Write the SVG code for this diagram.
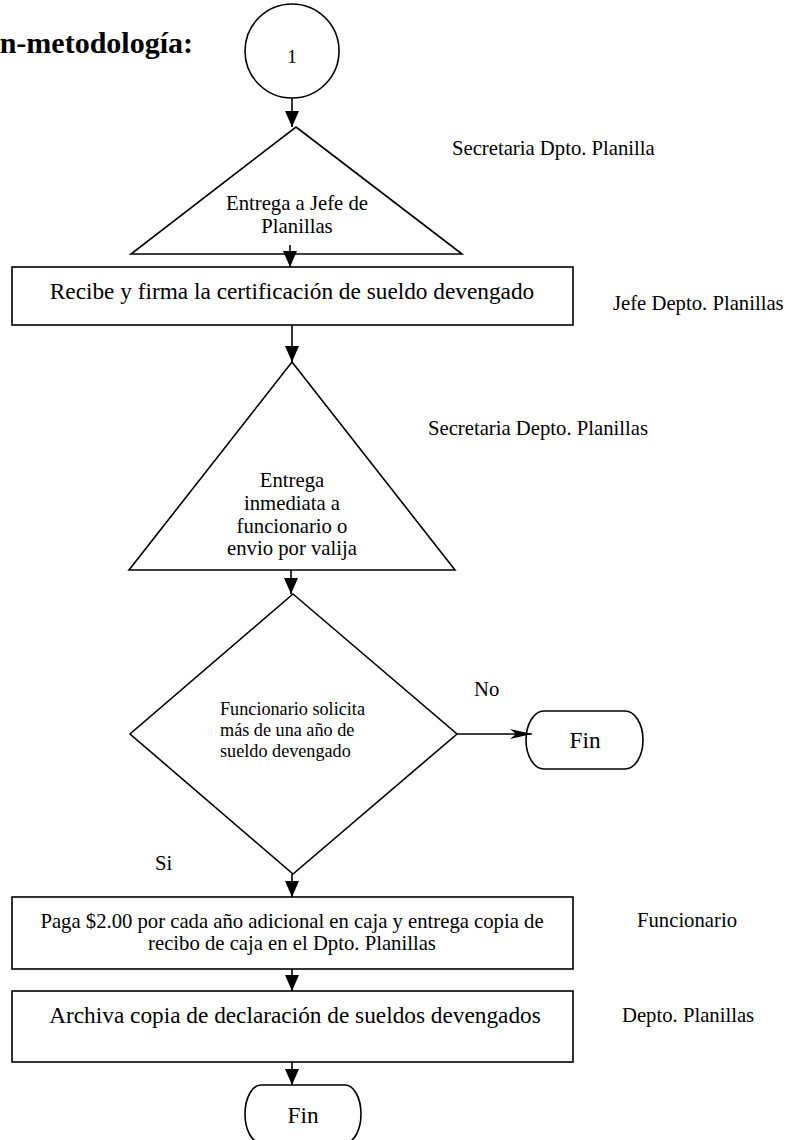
<svg xmlns="http://www.w3.org/2000/svg" width="787" height="1140" viewBox="0 0 787 1140">
<defs>
<style>
.s{fill:#fff;stroke:#000;stroke-width:1.6}
.c{fill:none;stroke:#000;stroke-width:1.6}
text{font-family:"Liberation Serif","Times New Roman",serif;fill:#000}
.m{font-size:23.3px;text-anchor:middle}
.l{font-size:20.7px}
.lc{font-size:20.7px;text-anchor:middle}
.d{font-size:18.2px}
</style>
<marker id="ah" markerUnits="userSpaceOnUse" markerWidth="16" markerHeight="14" refX="16" refY="7" orient="auto">
<path d="M0,0 L16,7 L0,14 z" fill="#000"/>
</marker>
<marker id="st" markerUnits="userSpaceOnUse" markerWidth="23" markerHeight="10" refX="22" refY="5" orient="auto">
<path d="M0,0 L22,5 L0,10 L6,5 z" fill="#000"/>
</marker>
</defs>
<rect width="787" height="1140" fill="#fff"/>
<text x="193" y="53" style="font-size:30px;font-weight:bold;text-anchor:end">n-metodología:</text>

<g id="n1">
<circle class="s" cx="292" cy="51" r="47"/>
<text class="lc" x="292" y="63" style="font-size:19px">1</text>
</g>
<g id="n2">
<polygon class="s" points="296,127 462,254 131,254"/>
<text class="lc" x="297" y="210">Entrega a Jefe de</text>
<text class="lc" x="297" y="233">Planillas</text>
</g>
<g id="n3">
<rect class="s" x="12" y="267" width="561" height="58"/>
<text class="m" x="292" y="299">Recibe y firma la certificación de sueldo devengado</text>
</g>
<g id="n4">
<polygon class="s" points="292,362 455,570 129,570"/>
<text class="lc" x="292" y="487">Entrega</text>
<text class="lc" x="292" y="510">inmediata a</text>
<text class="lc" x="292" y="533">funcionario o</text>
<text class="lc" x="292" y="555">envio por valija</text>
</g>
<g id="n5">
<polygon class="s" points="293,594 457,734 293,874 130,734"/>
<text class="d" x="220" y="715">Funcionario solicita</text>
<text class="d" x="220" y="736">más de una año de</text>
<text class="d" x="220" y="757">sueldo devengado</text>
</g>
<g id="n6">
<rect class="s" x="526" y="711" width="117" height="58" rx="18" ry="29"/>
<text class="m" x="585" y="748">Fin</text>
</g>
<g id="n7">
<rect class="s" x="12" y="897" width="561" height="72"/>
<text class="lc" x="292" y="928">Paga $2.00 por cada año adicional en caja y entrega copia de</text>
<text class="lc" x="292" y="950">recibo de caja en el Dpto. Planillas</text>
</g>
<g id="n8">
<rect class="s" x="12" y="991" width="561" height="71"/>
<text class="m" x="295" y="1023">Archiva copia de declaración de sueldos devengados</text>
</g>
<g id="n9">
<rect class="s" x="245" y="1085" width="116" height="58" rx="16" ry="29"/>
<text class="m" x="303" y="1123">Fin</text>
</g>

<g id="labels">
<text class="l" x="452" y="155">Secretaria Dpto. Planilla</text>
<text class="l" x="613" y="310">Jefe Depto. Planillas</text>
<text class="l" x="428" y="435">Secretaria Depto. Planillas</text>
<text class="l" x="637" y="927">Funcionario</text>
<text class="l" x="622" y="1022">Depto. Planillas</text>
<text class="l" x="474" y="696">No</text>
<text class="l" x="155" y="870">Si</text>
</g>

<g id="connectors">
<line class="c" x1="292" y1="98" x2="292" y2="127" marker-end="url(#ah)"/>
<line class="c" x1="290" y1="245" x2="290" y2="267" marker-end="url(#ah)"/>
<line class="c" x1="292" y1="325" x2="292" y2="362" marker-end="url(#ah)"/>
<line class="c" x1="291" y1="570" x2="291" y2="594" marker-end="url(#ah)"/>
<line class="c" x1="457" y1="734" x2="532" y2="734" marker-end="url(#st)"/>
<line class="c" x1="292" y1="874" x2="292" y2="897" marker-end="url(#ah)"/>
<line class="c" x1="292" y1="969" x2="292" y2="991" marker-end="url(#ah)"/>
<line class="c" x1="292" y1="1062" x2="292" y2="1085" marker-end="url(#ah)"/>
</g>
</svg>
